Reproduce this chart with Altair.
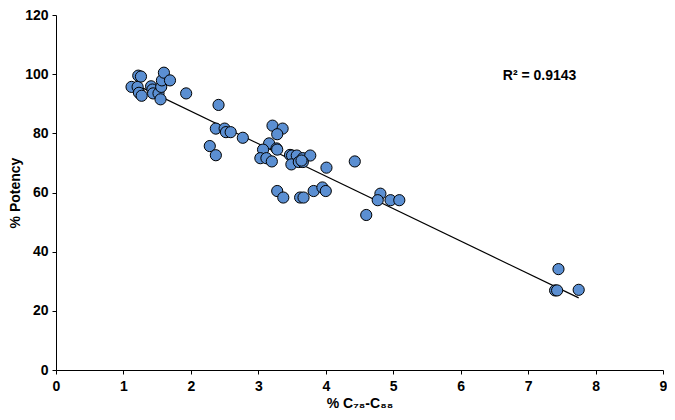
import altair as alt
import pandas as pd

x_vals = [1.12, 1.21, 1.22, 1.26, 1.23, 1.27, 1.41, 1.43, 1.44, 1.52,
          1.56, 1.57, 1.60, 1.69, 1.55, 1.93, 2.41, 2.37, 2.50, 2.52,
          2.59, 2.77, 2.28, 2.37, 3.21, 3.36, 3.28, 3.16, 3.07, 3.27,
          3.28, 3.03, 3.12, 3.20, 3.47, 3.50, 3.57, 3.66, 3.77, 3.49,
          3.60, 3.66, 3.64, 4.01, 4.43, 3.28, 3.37, 3.62, 3.67, 3.82,
          3.95, 4.00, 4.60, 4.81, 4.77, 4.96, 5.09, 7.45, 7.40, 7.43,
          7.75]
y_vals = [95.7, 95.7, 99.5, 99.2, 93.7, 92.7, 95.9, 94.8, 93.5, 93.5,
          95.7, 97.9, 100.5, 97.9, 91.5, 93.5, 89.6, 81.6, 81.6, 80.4,
          80.4, 78.5, 75.7, 72.6, 82.6, 81.6, 79.7, 76.6, 74.5, 74.9,
          74.5, 71.6, 71.6, 70.5, 72.7, 72.5, 72.5, 71.6, 72.5, 69.5,
          70.3, 70.3, 70.8, 68.4, 70.5, 60.5, 58.3, 58.3, 58.3, 60.5,
          61.7, 60.5, 52.4, 59.6, 57.4, 57.4, 57.4, 34.1, 26.9, 26.9,
          27.1]

x_ticks = [0, 1, 2, 3, 4, 5, 6, 7, 8, 9]
y_ticks = [0, 20, 40, 60, 80, 100, 120]

annot_text = ["R² = 0.9143"]
annot_x = [7.17]
annot_y = [99.5]

df = pd.DataFrame({"x": x_vals, "y": y_vals})
ann = pd.DataFrame({"x": annot_x, "y": annot_y, "t": annot_text})

FONT = "Liberation Sans"

xs = alt.Scale(domain=[0, 9], nice=False)
ys = alt.Scale(domain=[0, 120], nice=False)
xaxis = alt.Axis(values=x_ticks, title="% C₇₈-C₈₈", format="d", labelFlush=False)
yaxis = alt.Axis(values=y_ticks, title="% Potency", format="d")

points = alt.Chart(df).mark_circle(
    size=125, color="#5b8fd2", opacity=1, stroke="black", strokeWidth=1
).encode(
    x=alt.X("x:Q", scale=xs, axis=xaxis),
    y=alt.Y("y:Q", scale=ys, axis=yaxis),
)

line = alt.Chart(df).transform_regression("x", "y").mark_line(
    color="black", strokeWidth=1.2
).encode(
    x=alt.X("x:Q", scale=xs),
    y=alt.Y("y:Q", scale=ys),
)

text = alt.Chart(ann).mark_text(
    font=FONT, fontWeight="bold", fontSize=14, color="black", align="center"
).encode(
    x=alt.X("x:Q", scale=xs),
    y=alt.Y("y:Q", scale=ys),
    text="t:N",
)

chart = alt.layer(line, points, text).properties(
    width=607, height=355,
    autosize=alt.AutoSizeParams(type="none"),
    padding={"left": 48, "top": 7, "right": 4, "bottom": 42},
).configure_view(stroke=None).configure_axis(
    grid=False,
    domainColor="black",
    domainWidth=1,
    tickColor="black",
    tickSize=4,
    labelColor="black",
    labelFont=FONT,
    labelFontWeight="bold",
    labelFontSize=14,
    titleColor="black",
    titleFont=FONT,
    titleFontWeight="bold",
    titleFontSize=14,
    labelPadding=5,
).configure_axisY(titlePadding=2, labelPadding=4).configure_axisX(titlePadding=3)

chart.save("out.html", embed_options={"renderer": "svg", "actions": False})
